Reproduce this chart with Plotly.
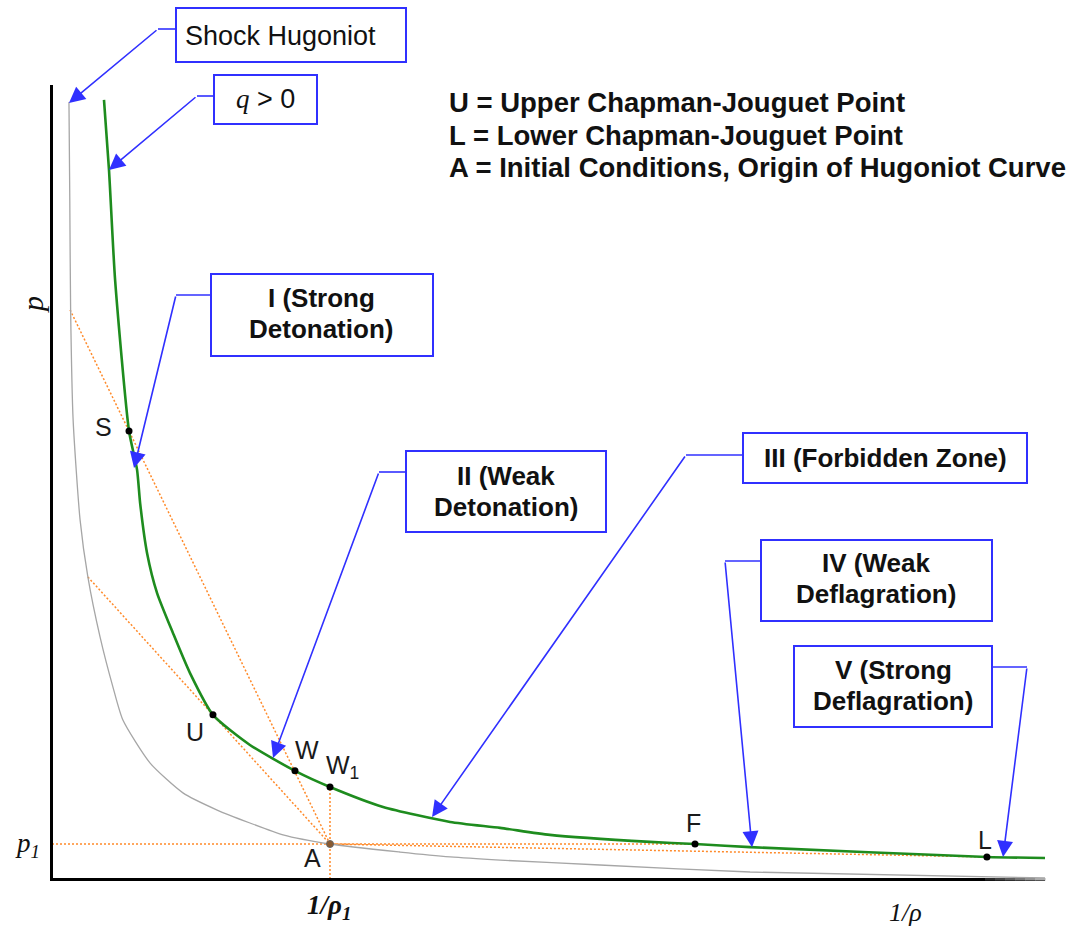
import plotly.graph_objects as go

# Specific volume v = (1/rho)/(1/rho1) and pressure p = p/p1, both scaled by the initial state A
# Shock Hugoniot (no heat release)
shock_v = [0.061, 0.064, 0.067, 0.076, 0.101, 0.129, 0.173, 0.219, 0.255, 0.353, 0.471,
           0.594, 0.712, 0.831, 1.000, 1.252, 1.432, 1.612, 1.971, 2.511, 3.572]
shock_p = [22.20, 19.40, 16.26, 13.11, 10.26, 8.63, 6.91, 5.49, 4.54, 3.31, 2.46,
           1.97, 1.60, 1.26, 1.00, 0.77, 0.63, 0.54, 0.40, 0.20, 0.03]

# Reactive Hugoniot (q > 0)
react_v = [0.187, 0.205, 0.227, 0.277, 0.306, 0.317, 0.342, 0.378, 0.435, 0.496, 0.579,
           0.712, 0.874, 1.000, 1.191, 1.432, 1.612, 1.791, 2.151, 2.313, 2.511, 3.363, 3.572]
react_p = [22.26, 20.26, 17.11, 12.80, 11.69, 10.74, 9.31, 8.17, 7.03, 5.89, 4.69,
           3.83, 3.09, 2.63, 2.06, 1.63, 1.46, 1.26, 1.06, 1.00, 0.91, 0.63, 0.60]

# Named states on the reactive Hugoniot
state_names = ["S", "U", "W", "W<sub>1</sub>", "F", "L"]
state_v = [0.277, 0.579, 0.874, 1.000, 2.313, 3.363]
state_p = [12.80, 4.69, 3.09, 2.63, 1.00, 0.63]
# label offsets in pixels (dx right, dy up)
state_dx = [-26, -18, 12, 12, -2, -2]
state_dy = [4, -17, 21, 20, 21, 17]

# Initial state A
a_v = [1.0]
a_p = [1.0]

# Rayleigh lines through A
ray_strong_v = [0.065, 1.0]
ray_strong_p = [16.26, 1.0]
ray_upper_v = [0.129, 1.0]
ray_upper_p = [8.63, 1.0]
ray_lower_v = [1.0, 3.363]
ray_lower_p = [1.0, 0.63]
isobar_v = [0.0, 2.313]
isobar_p = [1.0, 1.0]
isochore_v = [1.0, 1.0]
isochore_p = [0.0, 2.63]

# Axis reference marks (p1 on the p axis, 1/rho1 on the 1/rho axis)
mark_v = [0.0, 1.0]
mark_p = [1.0, 0.0]

# ---- figure geometry (pixels) ----
W, H = 1074, 930
PL, PR, PT, PB = 53, 1045, 85, 878


def px(x):
    return (x - PL) / (PR - PL)


def py(y):
    return (PB - y) / (PB - PT)


SANS = "Liberation Sans, Arial, sans-serif"
SERIF = "Liberation Serif, Times New Roman, serif"
ORANGE = "#FF8A2A"
BLUE = "#3030FF"
GREEN = "#1E8C1E"

fig = go.Figure()

ray_style = dict(color=ORANGE, width=1.5, dash="2px,2px")
for vv, pp in [(isobar_v, isobar_p), (isochore_v, isochore_p), (ray_strong_v, ray_strong_p),
               (ray_upper_v, ray_upper_p), (ray_lower_v, ray_lower_p)]:
    fig.add_trace(go.Scatter(x=vv, y=pp, mode="lines", line=ray_style, hoverinfo="skip"))

fig.add_trace(go.Scatter(x=shock_v, y=shock_p, mode="lines",
                         line=dict(color="#A6A6A6", width=1.3, shape="spline", smoothing=0.6)))
fig.add_trace(go.Scatter(x=react_v, y=react_p, mode="lines",
                         line=dict(color=GREEN, width=2.6, shape="spline", smoothing=0.6)))

fig.add_trace(go.Scatter(x=state_v, y=state_p, mode="markers",
                         marker=dict(color="black", size=7)))
fig.add_trace(go.Scatter(x=a_v, y=a_p, mode="markers",
                         marker=dict(color="#8a5a30", size=7, line=dict(color="#666", width=1))))
fig.add_trace(go.Scatter(x=mark_v, y=mark_p, mode="markers", cliponaxis=False,
                         marker=dict(color="black", size=7)))

ann = []
shapes = []


def label(x, y, text, size, family=SANS, **kw):
    d = dict(x=px(x), y=py(y), xref="paper", yref="paper", text=text, showarrow=False,
             xanchor="center", yanchor="middle", font=dict(family=family, size=size, color="#111"))
    d.update(kw)
    return d


# state labels
for name, v, p, dx, dy in zip(state_names, state_v, state_p, state_dx, state_dy):
    ann.append(dict(x=v, y=p, xref="x", yref="y", text=name, showarrow=False,
                    xanchor="center", yanchor="middle",
                    xshift=dx, yshift=dy, font=dict(family=SANS, size=25, color="#1a1a1a")))
ann.append(dict(x=a_v[0], y=a_p[0], xref="x", yref="y", text="A", showarrow=False,
                xanchor="center", yanchor="middle",
                xshift=-18, yshift=-14, font=dict(family=SANS, size=25, color="#1a1a1a")))

# axis labels
ann.append(label(32, 305, "<i>p</i>", 30, SERIF, textangle=-90))
ann.append(label(27, 845, "<i>p<sub>1</sub></i>", 27, SERIF))
ann.append(label(329, 907, "<b><i>1/ρ<sub>1</sub></i></b>", 27, SERIF))
ann.append(label(905, 913, "<i>1/ρ</i>", 26, SERIF))

# key
key_lines = ["U = Upper Chapman-Jouguet Point",
             "L = Lower Chapman-Jouguet Point",
             "A = Initial Conditions, Origin of Hugoniot Curve"]
for i, t in enumerate(key_lines):
    ann.append(label(447, 103 + 32 * i, "<b>" + t + "</b>", 27.5, xanchor="left"))

# callout boxes: (x0, y0, x1, y1), text lines with centres, bold flag
boxes = [
    ((176, 8, 406, 62), [("Shock Hugoniot", 280, 36)], False),
    ((214, 75, 317, 124), [("<i style='font-family:Liberation Serif'>q</i> &gt; 0", 265, 99)], False),
    ((211, 274, 433, 356), [("I (Strong", 321, 298), ("Detonation)", 321, 329)], True),
    ((406, 451, 606, 532), [("II (Weak", 506, 476), ("Detonation)", 506, 507)], True),
    ((743, 433, 1027, 483), [("III (Forbidden Zone)", 885, 458)], True),
    ((761, 540, 992, 621), [("IV (Weak", 876, 563), ("Deflagration)", 876, 594)], True),
    ((794, 646, 992, 727), [("V (Strong", 893, 670), ("Deflagration)", 893, 701)], True),
]
for (x0, y0, x1, y1), lines, bold in boxes:
    shapes.append(dict(type="rect", xref="paper", yref="paper", x0=px(x0), x1=px(x1),
                       y0=py(y1), y1=py(y0), line=dict(color=BLUE, width=2), fillcolor="white",
                       layer="above"))
    for t, cx, cy in lines:
        ann.append(label(cx, cy, ("<b>" + t + "</b>") if bold else t, 26 if bold else 27))

# leaders: box edge -> knee (straight), knee -> arrow tip on the curve
leaders = [
    ((176, 29), (158, 29), (0.061, 22.17)),
    ((214, 96), (197, 96), (0.205, 20.26)),
    ((211, 295), (176, 295), (0.295, 11.74)),
    ((406, 472), (379, 472), (0.795, 3.46)),
    ((743, 455), (686, 455), (1.367, 1.77)),
    ((761, 561), (725, 561), (2.518, 0.91)),
    ((992, 667), (1027, 667), (3.421, 0.63)),
]
for (ex, ey), (kx, ky), (tv, tp) in leaders:
    shapes.append(dict(type="line", xref="paper", yref="paper", x0=px(ex), y0=py(ey),
                       x1=px(kx), y1=py(ky), line=dict(color=BLUE, width=1.6), layer="above"))
    ann.append(dict(x=tv, y=tp, xref="x", yref="y", axref="x", ayref="y",
                    ax=(kx - 52) / 278, ay=(879 - ky) / 35, text="", showarrow=True,
                    arrowhead=2, arrowsize=2, arrowwidth=1.6, arrowcolor=BLUE))

# the horizontal axis fades out towards its right end
fade = ["#2a2a2a", "#444444", "#5e5e5e", "#787878", "#929292", "#ababab"]
seg = (PR - 985) / len(fade)
for i, c in enumerate(fade):
    shapes.append(dict(type="line", xref="paper", yref="paper",
                       x0=px(985 + i * seg), x1=px(985 + (i + 1) * seg + 0.5),
                       y0=py(PB + 1.25), y1=py(PB + 1.25),
                       line=dict(color=c, width=2.5), layer="above"))

fig.update_layout(
    width=W, height=H,
    margin=dict(l=PL, r=W - PR, t=PT, b=H - PB, pad=0),
    paper_bgcolor="white", plot_bgcolor="white",
    showlegend=False,
    xaxis=dict(range=[(PL - 52) / 278, (PR - 52) / 278], showline=True, linecolor="black",
               linewidth=2.5, showgrid=False, zeroline=False, showticklabels=False, ticks=""),
    yaxis=dict(range=[(879 - PB) / 35, (879 - PT) / 35], showline=True, linecolor="black",
               linewidth=2.5, showgrid=False, zeroline=False, showticklabels=False, ticks=""),
    annotations=ann,
    shapes=shapes,
)

fig.write_html("out.html")
